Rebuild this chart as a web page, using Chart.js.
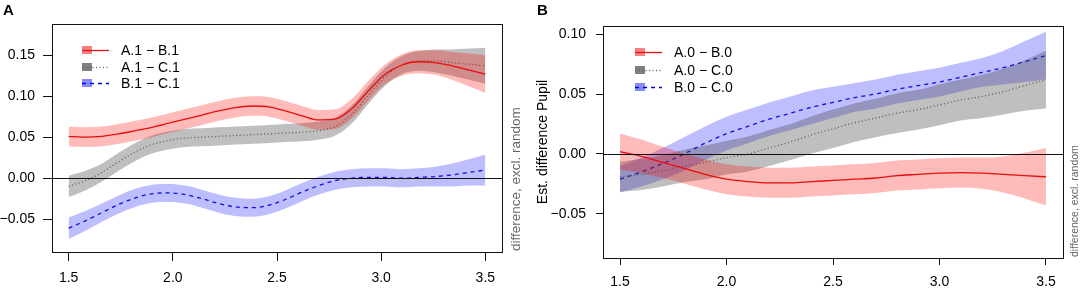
<!DOCTYPE html>
<html lang="en">
<head>
<meta charset="UTF-8">
<title>Estimated differences</title>
<style>
  body { margin: 0; background: #fff; font-family: "Liberation Sans", Arial, sans-serif; }
  #wrap { position: relative; width: 1084px; height: 306px; overflow: hidden; }
  canvas { position: absolute; top: 0; }
  #chartA { left: 0; }
  #chartB { left: 530px; }
  .tag { position: absolute; top: 1px; font-weight: bold; font-size: 15px; color: #000; }
</style>
</head>
<body>
<div id="wrap">
  <canvas id="chartA" width="540" height="306"></canvas>
  <canvas id="chartB" width="554" height="306"></canvas>
  <div class="tag" style="left:3px">A</div>
  <div class="tag" style="left:537px">B</div>
</div>
<script src="https://cdn.jsdelivr.net/npm/chart.js"></script>
<script>
  // panel A (level 1)
  const xA = [1.5, 1.58, 1.66, 1.74, 1.82, 1.9, 1.98, 2.06, 2.14, 2.22, 2.3, 2.38, 2.46,
              2.54, 2.62, 2.7, 2.78, 2.86, 2.94, 3.02, 3.1, 3.18, 3.26, 3.34, 3.42, 3.5];
  const abFitA = [0.051, 0.050, 0.051, 0.054, 0.058, 0.062, 0.067, 0.072, 0.077, 0.082, 0.086, 0.088, 0.087,
                  0.082, 0.076, 0.071, 0.072, 0.085, 0.107, 0.127, 0.138, 0.142, 0.141, 0.137, 0.132, 0.127];
  const abCiA  = [0.012, 0.012, 0.012, 0.012, 0.012, 0.012, 0.012, 0.012, 0.012, 0.012, 0.012, 0.012, 0.012,
                  0.012, 0.012, 0.012, 0.012, 0.012, 0.012, 0.012, 0.013, 0.014, 0.015, 0.017, 0.020, 0.023];
  const acFitA = [-0.010, -0.003, 0.007, 0.020, 0.032, 0.041, 0.046, 0.049, 0.050, 0.051, 0.052, 0.053, 0.054,
                  0.055, 0.056, 0.058, 0.063, 0.078, 0.102, 0.124, 0.138, 0.143, 0.143, 0.141, 0.139, 0.137];
  const acCiA  = [0.013, 0.012, 0.011, 0.011, 0.011, 0.011, 0.011, 0.011, 0.011, 0.011, 0.011, 0.011, 0.011,
                  0.011, 0.011, 0.011, 0.011, 0.011, 0.011, 0.011, 0.011, 0.012, 0.014, 0.016, 0.019, 0.022];
  const bcFitA = [-0.061, -0.052, -0.042, -0.032, -0.024, -0.019, -0.018, -0.020, -0.025, -0.031, -0.035, -0.036, -0.033,
                  -0.026, -0.017, -0.009, -0.003, 0.000, 0.001, 0.001, 0.000, 0.001, 0.002, 0.004, 0.007, 0.010];
  const bcCiA  = [0.013, 0.012, 0.011, 0.011, 0.011, 0.011, 0.011, 0.011, 0.011, 0.011, 0.011, 0.011, 0.011,
                  0.011, 0.011, 0.011, 0.011, 0.011, 0.011, 0.011, 0.011, 0.011, 0.012, 0.014, 0.016, 0.019];
  const labelsA = ['A.1 \u2212 B.1', 'A.1 \u2212 C.1', 'B.1 \u2212 C.1'];
  const yTicksA = [-0.05, 0, 0.05, 0.10, 0.15];

  // panel B (level 0)
  const xB = [1.5, 1.6, 1.7, 1.8, 1.9, 2.0, 2.1, 2.2, 2.3, 2.4, 2.5, 2.6, 2.7, 2.8, 2.9, 3.0, 3.1, 3.2, 3.3, 3.4, 3.5];
  const abFitB = [0.002, -0.002, -0.007, -0.012, -0.017, -0.021, -0.023, -0.024, -0.024, -0.023, -0.022,
                  -0.021, -0.020, -0.018, -0.017, -0.016, -0.0155, -0.016, -0.017, -0.018, -0.019];
  const abCiB  = [0.015, 0.014, 0.013, 0.0125, 0.0125, 0.0125, 0.0125, 0.0125, 0.0125, 0.0125, 0.0125,
                  0.0125, 0.0125, 0.0125, 0.0125, 0.0125, 0.0125, 0.013, 0.015, 0.019, 0.024];
  const acFitB = [-0.019, -0.017, -0.014, -0.010, -0.007, -0.003, 0.000, 0.005, 0.010, 0.016, 0.021,
                  0.026, 0.030, 0.034, 0.037, 0.041, 0.045, 0.048, 0.052, 0.057, 0.062];
  const acCiB  = [0.0125, 0.013, 0.013, 0.0135, 0.014, 0.014, 0.0145, 0.015, 0.015, 0.0155, 0.016,
                  0.016, 0.016, 0.0165, 0.0165, 0.017, 0.017, 0.018, 0.019, 0.021, 0.024];
  const bcFitB = [-0.021, -0.015, -0.008, 0.000, 0.009, 0.017, 0.023, 0.029, 0.034, 0.039, 0.043,
                  0.047, 0.050, 0.054, 0.057, 0.060, 0.064, 0.068, 0.072, 0.077, 0.082];
  const bcCiB  = [0.011, 0.012, 0.013, 0.014, 0.014, 0.014, 0.014, 0.014, 0.014, 0.014, 0.013,
                  0.012, 0.012, 0.012, 0.012, 0.012, 0.012, 0.012, 0.014, 0.017, 0.020];
  const labelsB = ['A.0 \u2212 B.0', 'A.0 \u2212 C.0', 'B.0 \u2212 C.0'];
  const yTicksB = [-0.05, 0, 0.05, 0.10];

  const xTicks = [1.5, 2.0, 2.5, 3.0, 3.5];

  const styles = [
    { band: 'rgba(255,0,0,0.27)', key: 'rgba(240,0,0,0.5)', line: 'rgb(225,20,20)', dash: [], width: 1.3 },
    { band: 'rgba(60,60,60,0.33)', key: 'rgba(60,60,60,0.65)', line: '#666', dash: [1, 2.5], width: 1.3 },
    { band: 'rgba(40,40,255,0.3)', key: 'rgba(40,40,255,0.55)', line: '#0000dd', dash: [4, 4], width: 1.3 }
  ];
  const FONT = '"Liberation Sans", Arial, sans-serif';

  function series(xs, fit, ci, st) {
    const pts = f => xs.map((x, i) => ({ x: x, y: f(i) }));
    const base = { pointRadius: 0, cubicInterpolationMode: 'monotone' };
    return [
      { ...base, data: pts(i => fit[i] - ci[i]), borderWidth: 0, borderColor: 'transparent', fill: false },
      { ...base, data: pts(i => fit[i] + ci[i]), borderWidth: 0, borderColor: 'transparent', fill: '-1', backgroundColor: st.band },
      { ...base, data: pts(i => fit[i]), borderWidth: st.width, borderColor: st.line, borderDash: st.dash, fill: false }
    ];
  }

  const fmt = v => (v < 0 ? '\u2212' : '') + Math.abs(v).toFixed(2);

  // box, zero line, legend and side notes
  const frame = {
    id: 'frame',
    afterDatasetsDraw(chart, args, o) {
      const { ctx, chartArea: a, scales } = chart;
      ctx.save();
      ctx.strokeStyle = '#111';
      ctx.lineWidth = 1;
      const y0 = Math.round(scales.y.getPixelForValue(0)) + 0.5;
      ctx.beginPath();
      ctx.moveTo(a.left, y0);
      ctx.lineTo(a.right, y0);
      ctx.stroke();
      ctx.strokeRect(Math.round(a.left) + 0.5, Math.round(a.top) + 0.5,
                     Math.round(a.right - a.left), Math.round(a.bottom - a.top));
      ctx.restore();
    },
    afterDraw(chart, args, o) {
      const ctx = chart.ctx;
      const a = chart.chartArea;
      ctx.save();
      // legend
      o.labels.forEach((lab, i) => {
        const st = styles[i];
        const y = o.legendY[i];
        ctx.fillStyle = st.key;
        ctx.fillRect(o.legendX, y - 4, 10, 8);
        ctx.strokeStyle = st.line;
        ctx.lineWidth = st.width;
        ctx.setLineDash(st.dash);
        ctx.beginPath();
        ctx.moveTo(o.legendX, y + 0.5);
        ctx.lineTo(o.legendX + 27, y + 0.5);
        ctx.stroke();
        ctx.setLineDash([]);
        ctx.fillStyle = '#000';
        ctx.font = '14px ' + FONT;
        ctx.textAlign = 'left';
        ctx.textBaseline = 'middle';
        ctx.fillText(lab, o.legendX + 39, y + 1);
      });
      // side note
      ctx.translate(o.noteX, a.bottom - 1);
      ctx.rotate(-Math.PI / 2);
      ctx.fillStyle = '#666';
      ctx.font = o.noteSize + 'px ' + FONT;
      ctx.textAlign = 'left';
      ctx.textBaseline = 'middle';
      ctx.fillText('difference, excl. random', 0, 0);
      ctx.restore();
      if (o.yTitle) {
        ctx.save();
        ctx.translate(o.yTitleX, (a.top + a.bottom) / 2);
        ctx.rotate(-Math.PI / 2);
        ctx.fillStyle = '#000';
        ctx.font = '14px ' + FONT;
        ctx.textAlign = 'center';
        ctx.textBaseline = 'middle';
        ctx.fillText(o.yTitle, 0, 0);
        ctx.restore();
      }
    }
  };

  function makeChart(id, xs, fits, cis, yTicks, cfg) {
    let datasets = [];
    fits.forEach((f, i) => { datasets = datasets.concat(series(xs, f, cis[i], styles[i])); });
    const tickFont = { family: FONT, size: 14 };
    return new Chart(document.getElementById(id), {
      type: 'line',
      data: { datasets: datasets },
      options: {
        responsive: false,
        animation: false,
        layout: { padding: { top: cfg.top, right: cfg.right, left: 0, bottom: 0 } },
        plugins: {
          legend: { display: false },
          tooltip: { enabled: false },
          frame: cfg.frame
        },
        scales: {
          x: {
            type: 'linear', min: 1.42, max: 3.58,
            afterBuildTicks: s => { s.ticks = xTicks.map(v => ({ value: v })); },
            afterFit: s => { s.height = cfg.xHeight; },
            border: { display: false },
            grid: { drawOnChartArea: false, tickLength: cfg.tickLen, color: '#111', lineWidth: 1 },
            ticks: { font: tickFont, color: '#000', padding: 9, maxRotation: 0, autoSkip: false,
                     callback: v => v.toFixed(1) }
          },
          y: {
            min: cfg.yMin, max: cfg.yMax,
            afterBuildTicks: s => { s.ticks = yTicks.map(v => ({ value: v })); },
            afterFit: s => { s.width = cfg.yWidth; },
            border: { display: false },
            grid: { drawOnChartArea: false, tickLength: cfg.tickLen, color: '#111', lineWidth: 1 },
            ticks: { font: tickFont, color: '#000', padding: cfg.yPad, autoSkip: false, callback: fmt }
          }
        }
      },
      plugins: [frame]
    });
  }

  makeChart('chartA', xA, [abFitA, acFitA, bcFitA], [abCiA, acCiA, bcCiA], yTicksA, {
    top: 24, right: 38, xHeight: 54, yWidth: 52, tickLen: 9, yPad: 8, yMin: -0.090, yMax: 0.188,
    frame: { labels: labelsA, legendX: 82, legendY: [50, 67, 83], noteX: 516, noteSize: 13.5 }
  });

  makeChart('chartB', xB, [abFitB, acFitB, bcFitB], [abCiB, acCiB, bcCiB], yTicksB, {
    top: 26, right: 21, xHeight: 48, yWidth: 73, tickLen: 7, yPad: 10, yMin: -0.0867, yMax: 0.1067,
    frame: { labels: labelsB, legendX: 105, legendY: [52, 70, 87], noteX: 545, noteSize: 10.5,
             yTitle: 'Est. difference Pupil', yTitleX: 13 }
  });
</script>
</body>
</html>
